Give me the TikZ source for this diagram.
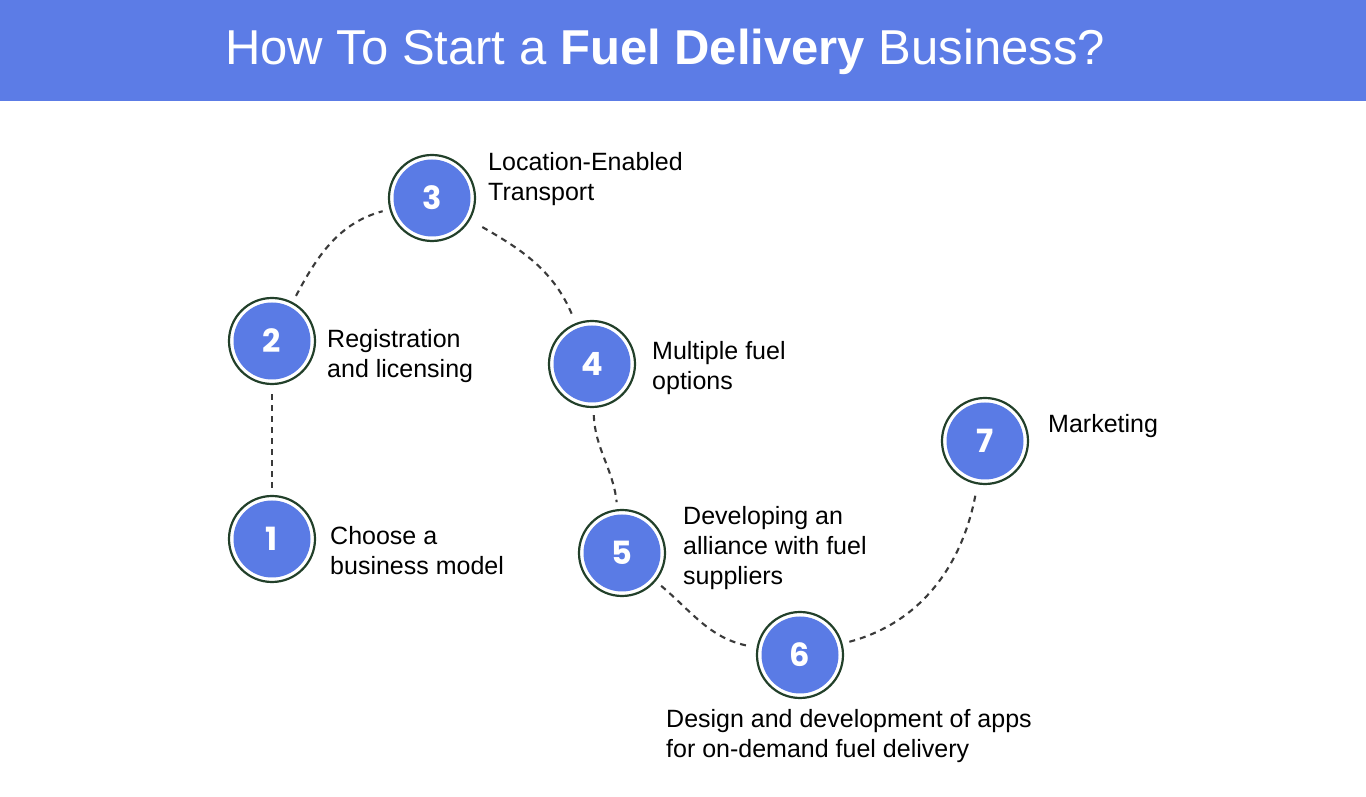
\documentclass[tikz,border=0pt]{standalone}
\usepackage{fontspec}
\setmainfont{Liberation Sans}
\newfontfamily\numfont{Poppins}
\begin{document}
\begin{tikzpicture}[x=1pt,y=1pt,
  ring/.style={circle,draw=ringcol,line width=2.2pt,fill=white,minimum size=86pt,inner sep=0pt},
  numtxt/.style={text=white,font=\numfont\bfseries\fontsize{32}{32}\selectfont},
  lbl/.style={anchor=west,align=left,inner sep=0pt,font=\fontsize{25}{30}\selectfont,text=black},
  link/.style={dashed,dash pattern=on 6pt off 5pt,line width=2.1pt,draw=dashcol,shorten <=7pt,shorten >=7pt}]
\definecolor{barblue}{HTML}{5C7CE6}
\definecolor{discblue}{HTML}{5A7BE5}
\definecolor{ringcol}{HTML}{22402A}
\definecolor{dashcol}{HTML}{3A3A3A}
\useasboundingbox (0,0) rectangle (1366,797);
\fill[white] (0,0) rectangle (1366,797);
\fill[barblue] (0,696) rectangle (1366,797);
\node[text=white,font=\fontsize{49}{49}\selectfont] (title) at (665,745) {How To Start a \textbf{Fuel Delivery} Business?};
% circles
\foreach \n/\x/\y in {1/272/258,2/272/456,3/432/599,4/592/433,5/622/244,6/800/142,7/985/356}{
  \node[ring] (c\n) at (\x,\y) {};
  \fill[discblue] (c\n.center) circle (38.5);
  \node[numtxt] (n\n) at (c\n.center) {\n};
}
% connectors
\draw[link] (c1) -- (c2);
\draw[link] (c2) to[out=62,in=195] (c3);
\draw[link,shorten <=14pt] (c3) to[out=-30,in=112] (c4);
\draw[link] (c4) to[out=-88,in=96] (c5);
\draw[link] (c5) to[out=-40,in=170] (c6);
\draw[link] (c6) to[out=15,in=-100] (c7);
% labels
\node[lbl] (t3) at (488,618) {Location-Enabled\\Transport};
\node[lbl] (t2) at (327,441) {Registration\\and licensing};
\node[lbl] (t4) at (652,429) {Multiple fuel\\options};
\node[lbl] (t7) at (1048,371) {Marketing};
\node[lbl] (t1) at (330,246) {Choose a\\business model};
\node[lbl] (t5) at (683,249) {Developing an\\alliance with fuel\\suppliers};
\node[lbl] (t6) at (666,61) {Design and development of apps\\for on-demand fuel delivery};
\end{tikzpicture}
\end{document}
